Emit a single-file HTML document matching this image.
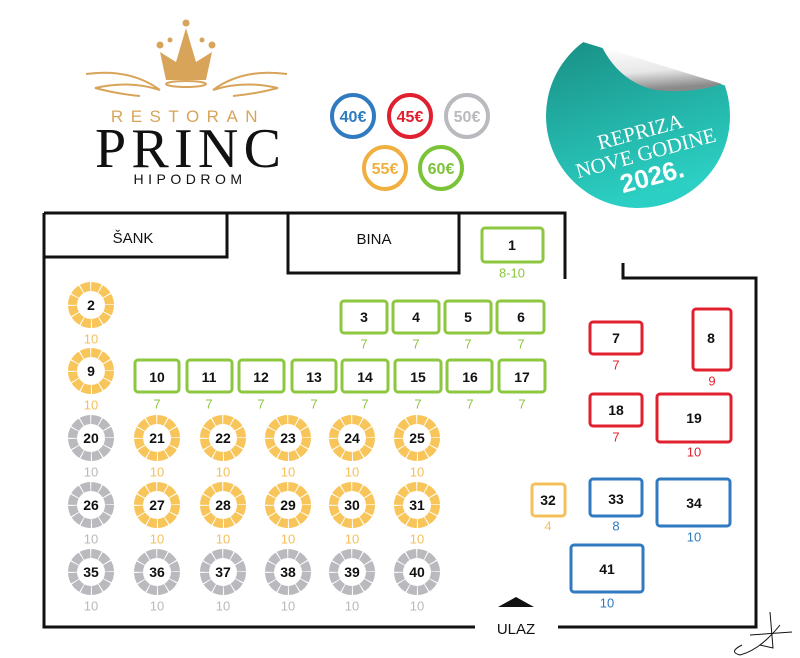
<!DOCTYPE html>
<html><head><meta charset="utf-8"><style>
html,body{margin:0;padding:0;background:#fff;}
svg{display:block;}
text{font-family:"Liberation Sans",sans-serif;}
.n{font-weight:bold;font-size:14px;fill:#111;text-anchor:middle;dominant-baseline:central;}
.c{font-size:13px;text-anchor:middle;dominant-baseline:central;}
</style></head><body>
<svg width="800" height="658" viewBox="0 0 800 658" xmlns="http://www.w3.org/2000/svg">
<defs>
<linearGradient id="tg" x1="0" y1="0" x2="0.3" y2="1"><stop offset="0" stop-color="#17897f"/><stop offset="1" stop-color="#2ccfc3"/></linearGradient>
<linearGradient id="pg" x1="0" y1="0" x2="0.2" y2="1"><stop offset="0" stop-color="#fff"/><stop offset="0.6" stop-color="#e8e8e8"/><stop offset="1" stop-color="#8a8a8a"/></linearGradient>
<clipPath id="cut"><polygon points="500,16.5 800,108.5 800,260 500,260"/></clipPath>
<g id="ro"><circle r="18.5" fill="none" stroke="#f8c55a" stroke-width="9" stroke-dasharray="8.7 1" /></g>
<g id="rg"><circle r="18.5" fill="none" stroke="#b9b9be" stroke-width="9" stroke-dasharray="8.7 1" /></g>
</defs>

<!-- logo -->
<g fill="#d8a45a">
<polygon points="160,52 176,62 186,28 196,62 212,52 206,80 166,80"/>
<circle cx="160" cy="45" r="3.5"/><circle cx="186" cy="23" r="3.5"/><circle cx="212" cy="45" r="3.5"/>
<circle cx="170" cy="40" r="2.5"/><circle cx="202" cy="40" r="2.5"/>
</g>
<ellipse cx="186" cy="84" rx="20" ry="3" fill="none" stroke="#d8a45a" stroke-width="2"/>
<path d="M86,74 Q130,68 160,90 Q130,80 95,88 Q118,94 140,96" fill="none" stroke="#d8a45a" stroke-width="2"/>
<path d="M287,74 Q243,68 213,90 Q243,80 278,88 Q255,94 233,96" fill="none" stroke="#d8a45a" stroke-width="2"/>
<text x="188" y="122" text-anchor="middle" font-size="17" fill="#d8a45a" letter-spacing="7.5">RESTORAN</text>
<text x="188" y="167" text-anchor="middle" font-size="56" fill="#111" style="font-family:'Liberation Serif',serif" textLength="186">PRINC</text>
<text x="190" y="184" text-anchor="middle" font-size="14" fill="#111" letter-spacing="4.5">HIPODROM</text>

<!-- price circles -->
<g stroke-width="4" fill="#fff" font-weight="bold" font-size="16" text-anchor="middle">
<circle cx="353" cy="116" r="21" stroke="#2f7ac0"/><text x="353" y="122" fill="#2f7ac0" stroke="none">40€</text>
<circle cx="410" cy="116" r="21" stroke="#e0202f"/><text x="410" y="122" fill="#e0202f" stroke="none">45€</text>
<circle cx="467" cy="116" r="21" stroke="#b9b9be"/><text x="467" y="122" fill="#b9b9be" stroke="none">50€</text>
<circle cx="385" cy="168" r="21" stroke="#f0b040"/><text x="385" y="174" fill="#f0b040" stroke="none">55€</text>
<circle cx="441" cy="168" r="21" stroke="#7cc33a"/><text x="441" y="174" fill="#7cc33a" stroke="none">60€</text>
</g>

<!-- sticker -->
<circle cx="638" cy="116" r="92" fill="url(#tg)" clip-path="url(#cut)"/>
<path d="M602,47 Q620,82 655,90 Q690,94 722,84 Z" fill="url(#pg)"/>
<g transform="rotate(-15 645 150)" fill="#fff" text-anchor="middle">
<text x="645" y="138" font-size="21" style="font-family:'Liberation Serif',serif">REPRIZA</text>
<text x="645" y="160" font-size="21" style="font-family:'Liberation Serif',serif">NOVE GODINE</text>
<text x="645" y="186" font-size="26" font-weight="bold">2026.</text>
</g>

<!-- walls -->
<g stroke="#111" stroke-width="3" fill="none">
<polyline points="44,213 44,627 475,627"/>
<polyline points="558,627 756,627 756,278 623,278 623,263"/>
<polyline points="44,213 565,213 565,279"/>
<polyline points="44,257 227,257 227,213"/>
<polyline points="288,213 288,273 459,273 459,213"/>
</g>
<text x="133" y="243" text-anchor="middle" font-size="15" fill="#111">ŠANK</text>
<text x="374" y="244" text-anchor="middle" font-size="15" fill="#111">BINA</text>
<polygon points="516,597 534,607 498,607" fill="#111"/>
<text x="516" y="634" text-anchor="middle" font-size="15" fill="#111">ULAZ</text>
<path d="M742,645 Q728,652 740,655 Q760,650 780,625 M770,612 L773,648 L760,645 M750,635 L792,632" fill="none" stroke="#111" stroke-width="1"/>

<!-- green rect tables -->
<g fill="#fff" stroke="#8dc63f" stroke-width="3">
<rect x="482" y="228" width="61" height="34" rx="3"/>
<rect x="341" y="301" width="46" height="32" rx="3"/><rect x="393" y="301" width="46" height="32" rx="3"/><rect x="445" y="301" width="46" height="32" rx="3"/><rect x="497" y="301" width="47" height="32" rx="3"/>
<rect x="135" y="360" width="44" height="32" rx="3"/><rect x="187" y="360" width="45" height="32" rx="3"/><rect x="239" y="360" width="45" height="32" rx="3"/><rect x="292" y="360" width="44" height="32" rx="3"/><rect x="342" y="360" width="46" height="32" rx="3"/><rect x="395" y="360" width="46" height="32" rx="3"/><rect x="447" y="360" width="45" height="32" rx="3"/><rect x="499" y="360" width="46" height="32" rx="3"/>
</g>
<g class="n">
<text class="n" x="512" y="245">1</text>
<text class="n" x="364" y="317">3</text><text class="n" x="416" y="317">4</text><text class="n" x="468" y="317">5</text><text class="n" x="521" y="317">6</text>
<text class="n" x="157" y="377">10</text><text class="n" x="209" y="377">11</text><text class="n" x="261" y="377">12</text><text class="n" x="314" y="377">13</text><text class="n" x="365" y="377">14</text><text class="n" x="418" y="377">15</text><text class="n" x="470" y="377">16</text><text class="n" x="522" y="377">17</text>
</g>
<g fill="#8dc63f">
<text class="c" x="512" y="273">8-10</text>
<text class="c" x="364" y="344">7</text><text class="c" x="416" y="344">7</text><text class="c" x="468" y="344">7</text><text class="c" x="521" y="344">7</text>
<text class="c" x="157" y="404">7</text><text class="c" x="209" y="404">7</text><text class="c" x="261" y="404">7</text><text class="c" x="314" y="404">7</text><text class="c" x="365" y="404">7</text><text class="c" x="418" y="404">7</text><text class="c" x="470" y="404">7</text><text class="c" x="522" y="404">7</text>
</g>

<!-- red -->
<g fill="#fff" stroke="#e0202f" stroke-width="3">
<rect x="590" y="322" width="52" height="32" rx="3"/><rect x="693" y="309" width="38" height="61" rx="3"/>
<rect x="590" y="394" width="52" height="32" rx="3"/><rect x="657" y="394" width="74" height="48" rx="3"/>
</g>
<text class="n" x="616" y="338">7</text><text class="n" x="711" y="338">8</text><text class="n" x="616" y="410">18</text><text class="n" x="694" y="418">19</text>
<g fill="#e0202f"><text class="c" x="616" y="365">7</text><text class="c" x="712" y="381">9</text><text class="c" x="616" y="437">7</text><text class="c" x="694" y="452">10</text></g>

<!-- blue & orange -->
<g fill="#fff" stroke="#2f7ac0" stroke-width="3">
<rect x="590" y="479" width="52" height="37" rx="3"/><rect x="657" y="479" width="73" height="47" rx="3"/><rect x="571" y="545" width="72" height="47" rx="3"/>
</g>
<rect x="532" y="484" width="33" height="32" rx="3" fill="#fff" stroke="#f5c05a" stroke-width="3"/>
<text class="n" x="548" y="500">32</text><text class="n" x="616" y="499">33</text><text class="n" x="694" y="503">34</text><text class="n" x="607" y="569">41</text>
<text class="c" x="548" y="526" fill="#f5c05a">4</text>
<g fill="#2f7ac0"><text class="c" x="616" y="526">8</text><text class="c" x="694" y="537">10</text><text class="c" x="607" y="603">10</text></g>

<!-- round tables -->
<use href="#ro" x="91" y="305"/><use href="#ro" x="91" y="371"/>
<use href="#rg" x="91" y="438"/><use href="#ro" x="157" y="438"/><use href="#ro" x="223" y="438"/><use href="#ro" x="288" y="438"/><use href="#ro" x="352" y="438"/><use href="#ro" x="417" y="438"/>
<use href="#rg" x="91" y="505"/><use href="#ro" x="157" y="505"/><use href="#ro" x="223" y="505"/><use href="#ro" x="288" y="505"/><use href="#ro" x="352" y="505"/><use href="#ro" x="417" y="505"/>
<use href="#rg" x="91" y="572"/><use href="#rg" x="157" y="572"/><use href="#rg" x="223" y="572"/><use href="#rg" x="288" y="572"/><use href="#rg" x="352" y="572"/><use href="#rg" x="417" y="572"/>
<text class="n" x="91" y="305">2</text><text class="n" x="91" y="371">9</text>
<text class="n" x="91" y="438">20</text><text class="n" x="157" y="438">21</text><text class="n" x="223" y="438">22</text><text class="n" x="288" y="438">23</text><text class="n" x="352" y="438">24</text><text class="n" x="417" y="438">25</text>
<text class="n" x="91" y="505">26</text><text class="n" x="157" y="505">27</text><text class="n" x="223" y="505">28</text><text class="n" x="288" y="505">29</text><text class="n" x="352" y="505">30</text><text class="n" x="417" y="505">31</text>
<text class="n" x="91" y="572">35</text><text class="n" x="157" y="572">36</text><text class="n" x="223" y="572">37</text><text class="n" x="288" y="572">38</text><text class="n" x="352" y="572">39</text><text class="n" x="417" y="572">40</text>
<g fill="#f5c05a"><text class="c" x="91" y="339">10</text><text class="c" x="91" y="405">10</text>
<text class="c" x="157" y="472">10</text><text class="c" x="223" y="472">10</text><text class="c" x="288" y="472">10</text><text class="c" x="352" y="472">10</text><text class="c" x="417" y="472">10</text>
<text class="c" x="157" y="539">10</text><text class="c" x="223" y="539">10</text><text class="c" x="288" y="539">10</text><text class="c" x="352" y="539">10</text><text class="c" x="417" y="539">10</text></g>
<g fill="#b9b9be"><text class="c" x="91" y="472">10</text><text class="c" x="91" y="539">10</text>
<text class="c" x="91" y="606">10</text><text class="c" x="157" y="606">10</text><text class="c" x="223" y="606">10</text><text class="c" x="288" y="606">10</text><text class="c" x="352" y="606">10</text><text class="c" x="417" y="606">10</text></g>
</svg>
</body></html>
